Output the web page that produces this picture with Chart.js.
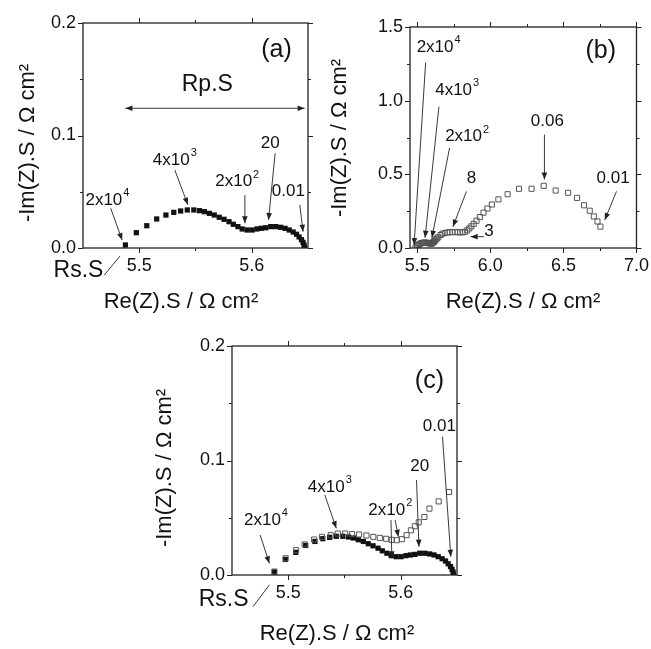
<!DOCTYPE html>
<html>
<head>
<meta charset="utf-8">
<script src="https://cdn.jsdelivr.net/npm/chart.js@4.4.0/dist/chart.umd.min.js"></script>
<style>
  body { margin: 0; background: #fff; }
  canvas { position: absolute; }
</style>
</head>
<body>
<canvas id="chartA" width="325" height="320" style="left:0;top:0"></canvas>
<canvas id="chartB" width="326" height="320" style="left:325px;top:0"></canvas>
<canvas id="chartC" width="351" height="329" style="left:150px;top:320px"></canvas>
<script>
// filled squares, panels (a) and (c)
const filledRe = [5.4877, 5.4974, 5.5067, 5.5155, 5.5237, 5.5307, 5.5368, 5.5427, 5.5485, 5.5535,
    5.5579, 5.5623, 5.5667, 5.5711, 5.5754, 5.5798, 5.5836, 5.5877, 5.5915, 5.5959,
    5.6003, 5.6046, 5.6085, 5.6125, 5.6169, 5.6213, 5.6257, 5.6296, 5.6333, 5.6368,
    5.6398, 5.6421, 5.6442, 5.6456, 5.6465, 5.6468];
const filledIm = [0.0027, 0.0136, 0.0198, 0.0258, 0.0293, 0.0317, 0.0329, 0.0338, 0.0338, 0.0332,
    0.0323, 0.0308, 0.0293, 0.0273, 0.0255, 0.0234, 0.0211, 0.0190, 0.0169, 0.0160,
    0.0160, 0.0169, 0.0175, 0.0180, 0.0190, 0.0190, 0.0184, 0.0175, 0.0160, 0.0142,
    0.0122, 0.0098, 0.0074, 0.0050, 0.0027, 0.0006];

// open squares, panels (b) and (c)
const openRe = [5.4877, 5.4977, 5.5070, 5.5146, 5.5230, 5.5300, 5.5378, 5.5440, 5.5506, 5.5567,
    5.5630, 5.5695, 5.5756, 5.5814, 5.5870, 5.5920, 5.5965, 5.6010, 5.6052, 5.6090,
    5.6125, 5.6160, 5.6210, 5.6255, 5.6337, 5.6430,
    5.659, 5.672, 5.688, 5.705, 5.722, 5.740, 5.759, 5.776, 5.793, 5.811,
    5.826, 5.842, 5.856, 5.870, 5.886, 5.905, 5.928, 5.953, 5.980, 6.010,
    6.055, 6.118, 6.196, 6.282, 6.365, 6.447, 6.532, 6.593, 6.641, 6.680,
    6.708, 6.733, 6.753];
const openIm = [0.0030, 0.0146, 0.0217, 0.0267, 0.0310, 0.0333, 0.0348, 0.0362, 0.0362, 0.0357,
    0.0354, 0.0345, 0.0333, 0.0324, 0.0316, 0.0307, 0.0304, 0.0313, 0.0348, 0.0390,
    0.0426, 0.0460, 0.0507, 0.0580, 0.0643, 0.0725,
    0.088, 0.097, 0.102, 0.105, 0.107, 0.108, 0.108, 0.107, 0.106, 0.106,
    0.110, 0.120, 0.133, 0.147, 0.164, 0.185, 0.210, 0.240, 0.268, 0.295,
    0.330, 0.365, 0.402, 0.402, 0.422, 0.390, 0.375, 0.340, 0.290, 0.253,
    0.214, 0.180, 0.145];

// tick labels
const ticksSmallX = [5.5, 5.6];
const minorSmallX = [5.55];
const ticksSmallY = [0, 0.1, 0.2];
const minorSmallY = [0.05, 0.15];
const ticksWideX = [5.5, 6.0, 6.5, 7.0];
const minorWideX = [5.75, 6.25, 6.75];
const ticksWideY = [0, 0.5, 1.0, 1.5];
const minorWideY = [0.25, 0.75, 1.25];

const FONT = '"Liberation Sans", Arial, sans-serif';
const X_TITLE = 'Re(Z).S / \u03A9 cm\u00B2';
const Y_TITLE = '-Im(Z).S / \u03A9 cm\u00B2';

function toPoints(xs, ys) {
    return xs.map((x, i) => ({ x: x, y: ys[i] }));
}

function arrowHead(ctx, x1, y1, x2, y2) {
    const a = Math.atan2(y2 - y1, x2 - x1);
    const L = 7, W = 2.8;
    ctx.beginPath();
    ctx.moveTo(x2, y2);
    ctx.lineTo(x2 - L * Math.cos(a) + W * Math.sin(a), y2 - L * Math.sin(a) - W * Math.cos(a));
    ctx.lineTo(x2 - L * Math.cos(a) - W * Math.sin(a), y2 - L * Math.sin(a) + W * Math.cos(a));
    ctx.closePath();
    ctx.fill();
}

function drawLabel(ctx, l, px, py) {
    const size = l.size || 17;
    const supSize = Math.round(size * 0.65);
    ctx.font = `${size}px ${FONT}`;
    const w1 = ctx.measureText(l.t).width;
    let w2 = 0;
    if (l.sup) {
        ctx.font = `${supSize}px ${FONT}`;
        w2 = ctx.measureText(l.sup).width + 1;
    }
    const x0 = px - (w1 + w2) / 2;
    ctx.textAlign = 'left';
    ctx.textBaseline = 'middle';
    ctx.font = `${size}px ${FONT}`;
    ctx.fillText(l.t, x0, py);
    if (l.sup) {
        ctx.font = `${supSize}px ${FONT}`;
        ctx.fillText(l.sup, x0 + w1 + 1, py - size * 0.42);
    }
}

const panelDeco = {
    id: 'panelDeco',
    afterDraw(chart, args, o) {
        const { ctx, chartArea: a, scales: { x, y } } = chart;
        ctx.save();
        ctx.strokeStyle = '#222';
        ctx.fillStyle = '#222';

        // frame
        ctx.lineWidth = 1.3;
        ctx.strokeRect(a.left, a.top, a.right - a.left, a.bottom - a.top);

        // outward ticks on all four sides
        ctx.lineWidth = 1;
        ctx.beginPath();
        const xt = (vals, len) => vals.forEach(v => {
            const p = Math.round(x.getPixelForValue(v)) + 0.5;
            ctx.moveTo(p, a.bottom); ctx.lineTo(p, a.bottom + len);
            ctx.moveTo(p, a.top); ctx.lineTo(p, a.top - len);
        });
        const yt = (vals, len) => vals.forEach(v => {
            const p = Math.round(y.getPixelForValue(v)) + 0.5;
            ctx.moveTo(a.left, p); ctx.lineTo(a.left - len, p);
            ctx.moveTo(a.right, p); ctx.lineTo(a.right + len, p);
        });
        xt(o.majorX, 5); xt(o.minorX, 3);
        yt(o.majorY, 5); yt(o.minorY, 3);
        ctx.stroke();

        // axis titles
        ctx.fillStyle = '#111';
        ctx.font = `22px ${FONT}`;
        ctx.textAlign = 'center';
        ctx.textBaseline = 'middle';
        ctx.fillText(X_TITLE, o.xTitle[0], o.xTitle[1]);
        ctx.save();
        ctx.translate(o.yTitle[0], o.yTitle[1]);
        ctx.rotate(-Math.PI / 2);
        ctx.fillText(Y_TITLE, 0, 0);
        ctx.restore();

        // annotations, placed in data units
        ctx.fillStyle = '#222';
        ctx.lineWidth = 0.9;
        o.arrows.forEach(r => {
            const x1 = x.getPixelForValue(r[0]), y1 = y.getPixelForValue(r[1]);
            const x2 = x.getPixelForValue(r[2]), y2 = y.getPixelForValue(r[3]);
            ctx.beginPath(); ctx.moveTo(x1, y1); ctx.lineTo(x2, y2); ctx.stroke();
            if (r[4] !== 'line') arrowHead(ctx, x1, y1, x2, y2);
            if (r[4] === 'both') arrowHead(ctx, x2, y2, x1, y1);
        });
        ctx.fillStyle = '#111';
        o.labels.forEach(l => drawLabel(ctx, l, x.getPixelForValue(l.x), y.getPixelForValue(l.y)));
        ctx.restore();
    }
};

function makePanel(id, p) {
    const tickFont = { family: FONT, size: 18 };
    new Chart(document.getElementById(id), {
        type: 'scatter',
        data: { datasets: p.datasets },
        options: {
            responsive: false,
            animation: false,
            devicePixelRatio: 1,
            layout: { padding: { top: p.padTop, right: p.padRight, left: 0, bottom: 0 } },
            plugins: {
                legend: { display: false },
                tooltip: { enabled: false },
                panelDeco: p.deco
            },
            scales: {
                x: {
                    type: 'linear',
                    min: p.xMin, max: p.xMax,
                    afterBuildTicks: s => { s.ticks = p.deco.majorX.map(v => ({ value: v })); },
                    afterFit: s => { s.height = p.xHeight; },
                    grid: { display: false, drawTicks: true, tickLength: 5 },
                    border: { display: false },
                    ticks: { font: tickFont, color: '#111', padding: 2, maxRotation: 0,
                        callback: v => Number(v).toFixed(1) }
                },
                y: {
                    type: 'linear',
                    min: p.yMin, max: p.yMax,
                    afterBuildTicks: s => { s.ticks = p.deco.majorY.map(v => ({ value: v })); },
                    afterFit: s => { s.width = p.yWidth; },
                    grid: { display: false, drawTicks: true, tickLength: 5 },
                    border: { display: false },
                    ticks: { font: tickFont, color: '#111', padding: 2,
                        callback: v => Number(v).toFixed(1) }
                }
            }
        },
        plugins: [panelDeco]
    });
}

const filledSet = {
    data: toPoints(filledRe, filledIm),
    pointStyle: 'rect', pointRadius: 3.7,
    backgroundColor: '#111', borderColor: '#111', borderWidth: 0
};
const openSet = {
    data: toPoints(openRe, openIm),
    pointStyle: 'rect', pointRadius: 3.6,
    backgroundColor: 'rgba(255,255,255,0)', borderColor: '#555', borderWidth: 1
};

// panel (a)
makePanel('chartA', {
    datasets: [filledSet],
    xMin: 5.45, xMax: 5.65, yMin: 0, yMax: 0.2,
    padTop: 23, padRight: 17, yWidth: 83, xHeight: 72,
    deco: {
        majorX: ticksSmallX, minorX: minorSmallX, majorY: ticksSmallY, minorY: minorSmallY,
        xTitle: [181, 302], yTitle: [28, 143],
        labels: [
            { t: '(a)', x: 5.622, y: 0.176, size: 25 },
            { t: 'Rp.S', x: 5.5605, y: 0.145, size: 23 },
            { t: '2x10', sup: '4', x: 5.4717, y: 0.0427 },
            { t: '4x10', sup: '3', x: 5.5316, y: 0.078 },
            { t: '2x10', sup: '2', x: 5.5871, y: 0.059 },
            { t: '20', x: 5.6164, y: 0.093 },
            { t: '0.01', x: 5.6325, y: 0.050 },
            { t: 'Rs.S', x: 5.4460, y: -0.020, size: 23 }
        ],
        arrows: [
            [5.4877, 0.1242, 5.647, 0.1242, 'both'],
            [5.4746, 0.0353, 5.4848, 0.0071],
            [5.5316, 0.0693, 5.5432, 0.0385],
            [5.5939, 0.047, 5.5939, 0.022],
            [5.6208, 0.0842, 5.6149, 0.0249],
            [5.6427, 0.0382, 5.6456, 0.0145],
            [5.469, -0.024, 5.483, -0.007, 'line']
        ]
    }
});

// panel (b)
makePanel('chartB', {
    datasets: [openSet],
    xMin: 5.45, xMax: 7.0, yMin: 0, yMax: 1.5,
    padTop: 27, padRight: 14, yWidth: 85, xHeight: 72,
    deco: {
        majorX: ticksWideX, minorX: minorWideX, majorY: ticksWideY, minorY: minorWideY,
        xTitle: [198, 302], yTitle: [15, 138],
        labels: [
            { t: '(b)', x: 6.755, y: 1.338, size: 25 },
            { t: '2x10', sup: '4', x: 5.646, y: 1.362 },
            { t: '4x10', sup: '3', x: 5.773, y: 1.072 },
            { t: '2x10', sup: '2', x: 5.841, y: 0.755 },
            { t: '8', x: 5.87, y: 0.475 },
            { t: '3', x: 5.99, y: 0.112 },
            { t: '0.06', x: 6.39, y: 0.861 },
            { t: '0.01', x: 6.84, y: 0.475 }
        ],
        arrows: [
            [5.557, 1.259, 5.478, 0.02],
            [5.648, 0.959, 5.553, 0.07],
            [5.721, 0.68, 5.60, 0.07],
            [5.836, 0.384, 5.744, 0.145],
            [5.956, 0.077, 5.865, 0.077],
            [6.37, 0.77, 6.37, 0.465],
            [6.863, 0.384, 6.783, 0.19]
        ]
    }
});

// panel (c)
makePanel('chartC', {
    datasets: [openSet, filledSet],
    xMin: 5.45, xMax: 5.65, yMin: 0, yMax: 0.2,
    padTop: 26, padRight: 44, yWidth: 82, xHeight: 74,
    deco: {
        majorX: ticksSmallX, minorX: minorSmallX, majorY: ticksSmallY, minorY: minorSmallY,
        xTitle: [187, 314], yTitle: [15, 148],
        labels: [
            { t: '(c)', x: 5.6255, y: 0.169, size: 25 },
            { t: '2x10', sup: '4', x: 5.4802, y: 0.048 },
            { t: '4x10', sup: '3', x: 5.5369, y: 0.077 },
            { t: '2x10', sup: '2', x: 5.5907, y: 0.0568 },
            { t: '20', x: 5.6168, y: 0.0946 },
            { t: '0.01', x: 5.6343, y: 0.1295 },
            { t: 'Rs.S', x: 5.4425, y: -0.0218, size: 23 }
        ],
        arrows: [
            [5.475, 0.035, 5.4832, 0.0102],
            [5.5325, 0.0699, 5.5427, 0.0408],
            [5.5913, 0.048, 5.5921, 0.0146],
            [5.5950, 0.048, 5.5979, 0.0334],
            [5.614, 0.083, 5.6162, 0.0247],
            [5.6371, 0.1208, 5.6445, 0.016],
            [5.4686, -0.0277, 5.4832, -0.0087, 'line']
        ]
    }
});
</script>
</body>
</html>
